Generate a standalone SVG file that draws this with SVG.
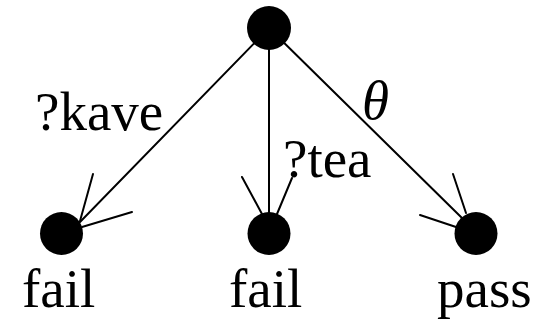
<svg xmlns="http://www.w3.org/2000/svg" width="539" height="321" viewBox="0 0 539 321">
<style>
.e{stroke:#000;stroke-width:2;fill:none;stroke-linecap:round}
.n{fill:#000}
text{font-family:"Liberation Serif","Times New Roman",serif;font-size:55px;fill:#000}
</style>
<rect width="539" height="321" fill="#fff"/>
<g id="connectors">
<line class="e" x1="269" y1="28" x2="80" y2="222"/>
<line class="e" x1="80" y1="221" x2="93" y2="174"/>
<line class="e" x1="82" y1="227" x2="132" y2="212"/>
<line class="e" x1="269" y1="28" x2="269" y2="213"/>
<line class="e" x1="262" y1="214" x2="242" y2="177"/>
<line class="e" x1="277" y1="214" x2="292" y2="178"/>
<line class="e" x1="269" y1="28" x2="462" y2="218"/>
<line class="e" x1="466" y1="213" x2="453" y2="174"/>
<line class="e" x1="456" y1="227" x2="420" y2="215"/>
<text x="35" y="130">?kave</text>
<text x="283" y="177">?tea</text>
<text x="362" y="119" font-style="italic" font-size="48">θ</text>
</g>
<g id="root"><circle class="n" cx="269" cy="28" r="22"/></g>
<g id="n1"><circle class="n" cx="61.5" cy="233.5" r="21.5"/><text x="22" y="307">fail</text></g>
<g id="n2"><circle class="n" cx="269" cy="233.5" r="21.5"/><text x="229" y="307">fail</text></g>
<g id="n3"><circle class="n" cx="476" cy="233.5" r="21.5"/><text x="437" y="307">pass</text></g>
</svg>
